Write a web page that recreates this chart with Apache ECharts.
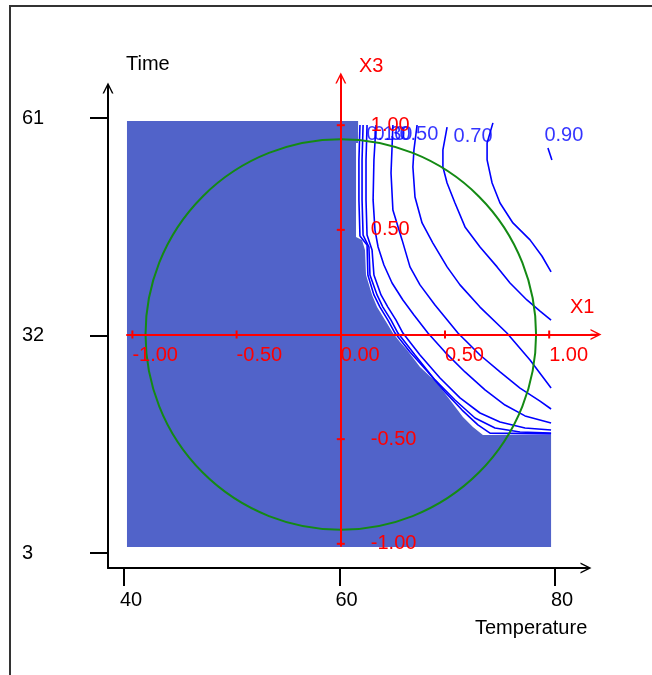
<!DOCTYPE html>
<html>
<head>
<meta charset="utf-8">
<script src="https://cdn.jsdelivr.net/npm/echarts@6/dist/echarts.min.js"></script>
<style>
html,body{margin:0;padding:0;background:#fff;}
#c{width:652px;height:675px;}
</style>
</head>
<body>
<div id="c"></div>
<script>
// ---------- data ----------
const temperatureTicks = [40, 60, 80];
const timeTicks = [3, 32, 61];
const x1Ticks = [-1, -0.5, 0, 0.5, 1];
const x3Ticks = [-1, -0.5, 0.5, 1];
const designCircle = [[0, 0, 0.935]]; // centre X1, centre X3, radius (coded units)

// infeasible (masked) region, coded X1/X3
const infeasibleRegion = [
  [-1.026, 1.020], [0.083, 1.020], [0.083, 0.915], [0.073, 0.915], [0.073, 0.466],
  [0.102, 0.452], [0.116, 0.404], [0.121, 0.284], [0.150, 0.189], [0.174, 0.131],
  [0.212, 0.069], [0.250, 0.007], [0.284, -0.036], [0.318, -0.074], [0.380, -0.155],
  [0.462, -0.232], [0.524, -0.313], [0.586, -0.394], [0.634, -0.442], [0.682, -0.480],
  [1.009, -0.480], [1.009, -1.015], [-1.026, -1.015]
];

// contour lines of the response (X1, X3), top point first
const contour010 = [[0.092,1.001],[0.087,0.834],[0.087,0.643],[0.092,0.471],[0.126,0.428],[0.130,0.284],[0.159,0.189],[0.188,0.131],[0.226,0.069],[0.260,0.007],[0.332,-0.084],[0.418,-0.179],[0.500,-0.275],[0.582,-0.361],[0.658,-0.432],[0.716,-0.471],[1.009,-0.475]];
const contour020 = [[0.107,1.001],[0.102,0.834],[0.102,0.643],[0.107,0.475],[0.135,0.418],[0.140,0.284],[0.174,0.189],[0.202,0.131],[0.241,0.069],[0.274,0.007],[0.356,-0.098],[0.452,-0.217],[0.548,-0.313],[0.644,-0.399],[0.740,-0.447],[0.860,-0.466],[1.009,-0.471]];
const contour030 = [[0.126,1.001],[0.121,0.834],[0.121,0.643],[0.126,0.475],[0.150,0.404],[0.159,0.284],[0.193,0.189],[0.226,0.131],[0.265,0.069],[0.298,0.007],[0.380,-0.098],[0.476,-0.208],[0.572,-0.303],[0.668,-0.375],[0.764,-0.418],[0.884,-0.447],[1.009,-0.456]];
const contour040 = [[0.169,1.001],[0.159,0.834],[0.155,0.643],[0.164,0.499],[0.179,0.418],[0.207,0.332],[0.246,0.246],[0.298,0.165],[0.351,0.093],[0.418,0.007],[0.500,-0.084],[0.596,-0.179],[0.692,-0.265],[0.788,-0.337],[0.884,-0.389],[1.009,-0.423]];
const contour050 = [[0.250,1.001],[0.246,0.896],[0.241,0.772],[0.250,0.595],[0.294,0.452],[0.332,0.323],[0.380,0.237],[0.452,0.141],[0.562,0.007],[0.668,-0.098],[0.764,-0.179],[0.860,-0.256],[0.956,-0.318],[1.009,-0.356]];
const contour060 = [[0.366,1.001],[0.351,0.882],[0.346,0.800],[0.356,0.657],[0.390,0.533],[0.442,0.437],[0.510,0.323],[0.572,0.237],[0.668,0.131],[0.797,0.007],[0.908,-0.122],[1.009,-0.256]];
const contour070 = [[0.510,0.991],[0.490,0.882],[0.490,0.800],[0.510,0.724],[0.548,0.628],[0.596,0.514],[0.668,0.418],[0.750,0.323],[0.812,0.246],[0.893,0.165],[0.956,0.112],[1.009,0.069]];
const contour080 = [[0.730,1.011],[0.702,0.915],[0.702,0.834],[0.726,0.724],[0.764,0.628],[0.826,0.533],[0.908,0.452],[0.965,0.375],[1.009,0.299]];
const contour090 = [[0.994,0.891],[1.013,0.834]];

const contourLevels = ['0.10','0.20','0.30','0.40','0.50','0.60','0.70','0.80','0.90'];
const contourLines = [contour010, contour020, contour030, contour040, contour050, contour060, contour070, contour080, contour090];
const labelledLevels = ['0.10','0.30','0.50','0.70','0.90'];

// ---------- styling ----------
const FONT = "'Liberation Sans', Arial, sans-serif";
const RED = '#ff0000';
const BLUE = '#0000ff';
const FILL = '#5163c9';
const GREEN = '#148a14';
const arrowPath = 'path://M0,10 L5,0 L10,10 L8.6,10 L5,2.8 L1.4,10 Z M4.35,1.2 L5.65,1.2 L5.65,10 L4.35,10 Z';

const chart = echarts.init(document.getElementById('c'));

const contourSeries = contourLines.map((pts, i) => ({
  type: 'line', name: contourLevels[i], xAxisIndex: 1, yAxisIndex: 1,
  data: pts, showSymbol: false, symbol: 'none', silent: true, z: 3,
  lineStyle: { color: BLUE, width: 1.6 }
}));

const labelData = contourLines
  .map((pts, i) => ({ level: contourLevels[i], pt: pts[0] }))
  .filter(d => labelledLevels.includes(d.level))
  .map(d => ({
    name: d.level, value: d.pt,
    label: d.level === '0.90' ? { position: [-3, -12] } : undefined
  }));

// grid 1 (coded axes) geometry
const G1 = { left: 127, right: 56, top: 78, bottom: 129 };
const X1_MIN = -1.0259, X1_MAX = 1.2246, X3_MIN = -1.0105, X3_MAX = 1.2255;
const g1w = 652 - G1.left - G1.right, g1h = 675 - G1.top - G1.bottom;
// offsets that put the red axes through the origin
const x1AxisOffset = -(0 - X3_MIN) / (X3_MAX - X3_MIN) * g1h;
const x3AxisOffset = -(0 - X1_MIN) / (X1_MAX - X1_MIN) * g1w;

const option = {
  animation: false,
  backgroundColor: '#fff',
  grid: [
    { left: 108, right: 66, top: 88, bottom: 107 },
    G1
  ],
  xAxis: [
    { gridIndex: 0, type: 'value', min: 38.515, max: 82.877,
      axisLine: { onZero: false, lineStyle: { color: '#000', width: 2 }, symbol: ['none', arrowPath], symbolSize: [11, 11] },
      axisTick: { show: true, customValues: temperatureTicks, length: 18, lineStyle: { color: '#000', width: 2 } },
      axisLabel: { customValues: temperatureTicks, margin: 22, align: 'center', padding: [0, 0, 0, 14], color: '#000', fontSize: 20, fontFamily: FONT },
      splitLine: { show: false } },
    { gridIndex: 1, type: 'value', min: X1_MIN, max: X1_MAX, z: 6, position: 'bottom', offset: x1AxisOffset,
      axisLine: { onZero: false, lineStyle: { color: RED, width: 2 }, symbol: ['none', arrowPath], symbolSize: [11, 11] },
      axisTick: { show: false },
      axisLabel: { customValues: x1Ticks, formatter: v => v.toFixed(2), margin: 11, align: 'left', color: RED, fontSize: 20, fontFamily: FONT },
      splitLine: { show: false } }
  ],
  yAxis: [
    { gridIndex: 0, type: 'value', min: 1, max: 65,
      axisLine: { onZero: false, lineStyle: { color: '#000', width: 2 }, symbol: ['none', arrowPath], symbolSize: [11, 11] },
      axisTick: { show: true, customValues: timeTicks, length: 18, lineStyle: { color: '#000', width: 2 } },
      axisLabel: { customValues: timeTicks, margin: 86, align: 'left', color: '#000', fontSize: 20, fontFamily: FONT },
      splitLine: { show: false } },
    { gridIndex: 1, type: 'value', min: X3_MIN, max: X3_MAX, z: 6, position: 'left', offset: x3AxisOffset,
      axisLine: { onZero: false, lineStyle: { color: RED, width: 2 }, symbol: ['none', arrowPath], symbolSize: [11, 11] },
      axisTick: { show: false },
      axisLabel: { customValues: x3Ticks, formatter: v => v.toFixed(2), inside: true, margin: 30, align: 'left', color: RED, fontSize: 20, fontFamily: FONT },
      splitLine: { show: false } }
  ],
  series: [
    { type: 'custom', name: 'region', xAxisIndex: 1, yAxisIndex: 1, z: 1, silent: true,
      data: infeasibleRegion,
      renderItem: (params, api) => {
        if (params.dataIndex !== 0) return null;
        return { type: 'polygon', shape: { points: infeasibleRegion.map(p => api.coord(p)) }, style: { fill: FILL } };
      } },
    ...contourSeries,
    { type: 'scatter', name: 'levels', xAxisIndex: 1, yAxisIndex: 1, z: 4, silent: true,
      data: labelData, symbolSize: 1, itemStyle: { color: 'rgba(0,0,0,0)' },
      label: { show: true, formatter: '{b}', position: [7, 10], align: 'left', verticalAlign: 'middle', color: BLUE, fontSize: 20, fontFamily: FONT } },
    { type: 'custom', name: 'circle', xAxisIndex: 1, yAxisIndex: 1, z: 5, silent: true,
      data: designCircle,
      renderItem: (params, api) => {
        const c = api.coord([api.value(0), api.value(1)]);
        const s = api.size([api.value(2), api.value(2)]);
        return { type: 'circle', shape: { cx: c[0], cy: c[1], r: (s[0] + s[1]) / 2 }, style: { fill: null, stroke: GREEN, lineWidth: 2 } };
      } },
    { type: 'custom', name: 'x1ticks', xAxisIndex: 1, yAxisIndex: 1, z: 7, silent: true,
      data: x1Ticks.filter(v => v !== 0).map(v => [v, 0]),
      renderItem: (params, api) => {
        const p = api.coord([api.value(0), api.value(1)]);
        return { type: 'line', shape: { x1: p[0], y1: p[1] - 4, x2: p[0], y2: p[1] + 4 }, style: { stroke: RED, lineWidth: 2 } };
      } },
    { type: 'custom', name: 'x3ticks', xAxisIndex: 1, yAxisIndex: 1, z: 7, silent: true,
      data: x3Ticks.map(v => [0, v]),
      renderItem: (params, api) => {
        const p = api.coord([api.value(0), api.value(1)]);
        return { type: 'line', shape: { x1: p[0] - 4, y1: p[1], x2: p[0] + 4, y2: p[1] }, style: { stroke: RED, lineWidth: 2 } };
      } }
  ],
  graphic: [
    { type: 'polyline', shape: { points: [[10, 675], [10, 6], [652, 6]] }, style: { stroke: '#333', lineWidth: 2, fill: null } },
    { type: 'text', x: 126, y: 64, style: { text: 'Time', fill: '#000', font: '20px ' + FONT, align: 'left', verticalAlign: 'middle' } },
    { type: 'text', x: 475, y: 628, style: { text: 'Temperature', fill: '#000', font: '20px ' + FONT, align: 'left', verticalAlign: 'middle' } },
    { type: 'text', x: 359, y: 66, style: { text: 'X3', fill: RED, font: '20px ' + FONT, align: 'left', verticalAlign: 'middle' } },
    { type: 'text', x: 570, y: 307, style: { text: 'X1', fill: RED, font: '20px ' + FONT, align: 'left', verticalAlign: 'middle' } }
  ]
};
chart.setOption(option);
</script>
</body>
</html>
